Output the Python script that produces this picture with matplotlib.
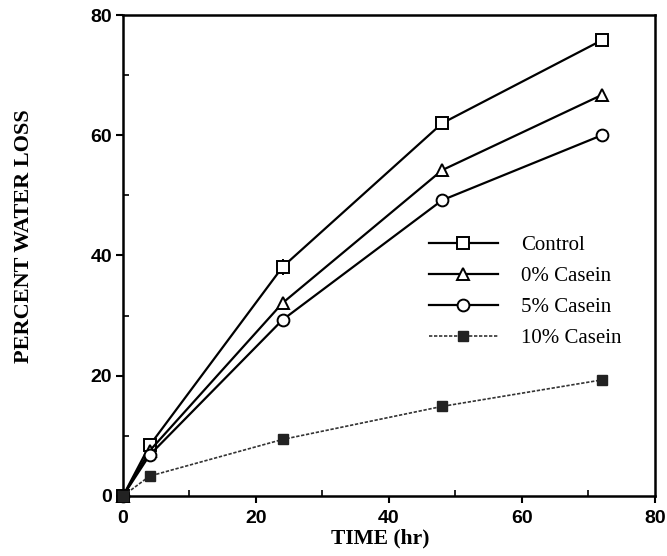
import numpy as np
import matplotlib.pyplot as plt
from matplotlib.ticker import MultipleLocator

# time points (hr)
time = [0, 4, 24, 48, 72]

# percent water loss per treatment
control = [0, 8.4, 38.1, 62.0, 75.8]
casein_0 = [0, 7.5, 32.1, 54.2, 66.7]
casein_5 = [0, 6.8, 29.3, 49.2, 60.0]
casein_10 = [0, 3.3, 9.4, 14.9, 19.3]
control_err = [0, 0.6, 1.3, 1.0, 0.5]

labels = ["Control", "0% Casein", "5% Casein", "10% Casein"]

fig = plt.figure(figsize=(6.67, 5.56), dpi=100)
ax = fig.add_axes([0.1844, 0.108, 0.7976, 0.865])

mk = dict(mfc="white", mec="black", mew=1.4, clip_on=False, zorder=3)
ax.errorbar(time, control, yerr=control_err, fmt="none", ecolor="black",
            elinewidth=1.4, capsize=0)
ax.plot(time, control, color="black", lw=1.6, marker="s", ms=8.5,
        label=labels[0], **mk)
ax.plot(time, casein_0, color="black", lw=1.6, marker="^", ms=8,
        label=labels[1], **mk)
ax.plot(time, casein_5, color="black", lw=1.6, marker="o", ms=8.5,
        label=labels[2], **mk)
ax.plot(time, casein_10, color="#333333", lw=1.2, ls=(0, (2, 1)),
        marker="s", ms=6.5, mfc="#222222", mec="#222222", clip_on=False,
        zorder=3, label=labels[3])

ax.set_xlim(0, 80)
ax.set_ylim(0, 80)
ax.xaxis.set_major_locator(MultipleLocator(20))
ax.yaxis.set_major_locator(MultipleLocator(20))
ax.xaxis.set_minor_locator(MultipleLocator(10))
ax.yaxis.set_minor_locator(MultipleLocator(10))
ax.tick_params(which="major", direction="out", length=5, width=1.5, pad=3)
ax.tick_params(which="minor", direction="in", length=4, width=1.2)
ax.tick_params(axis="x", which="major", pad=5)
for s in ax.spines.values():
    s.set_linewidth(1.8)

for lab in ax.get_xticklabels() + ax.get_yticklabels():
    lab.set_fontfamily("Liberation Sans")
    lab.set_fontweight("bold")
    lab.set_fontsize(14)

ax.set_xlabel("TIME (hr)", fontfamily="Liberation Serif", fontweight="bold",
              fontsize=15.5)
ax.xaxis.set_label_coords(0.483, -0.067)
ax.set_ylabel("PERCENT WATER LOSS", fontfamily="Liberation Serif",
              fontweight="bold", fontsize=16)
ax.yaxis.set_label_coords(-0.168, 0.54)

handles, labs = ax.get_legend_handles_labels()
leg = ax.legend(handles, labs, loc="upper left", bbox_to_anchor=(0.54, 0.58),
                frameon=False, handlelength=3.3, handletextpad=1.1,
                labelspacing=0.55, prop={"family": "Liberation Serif", "size": 15})

fig.savefig("out.png", dpi=100)
